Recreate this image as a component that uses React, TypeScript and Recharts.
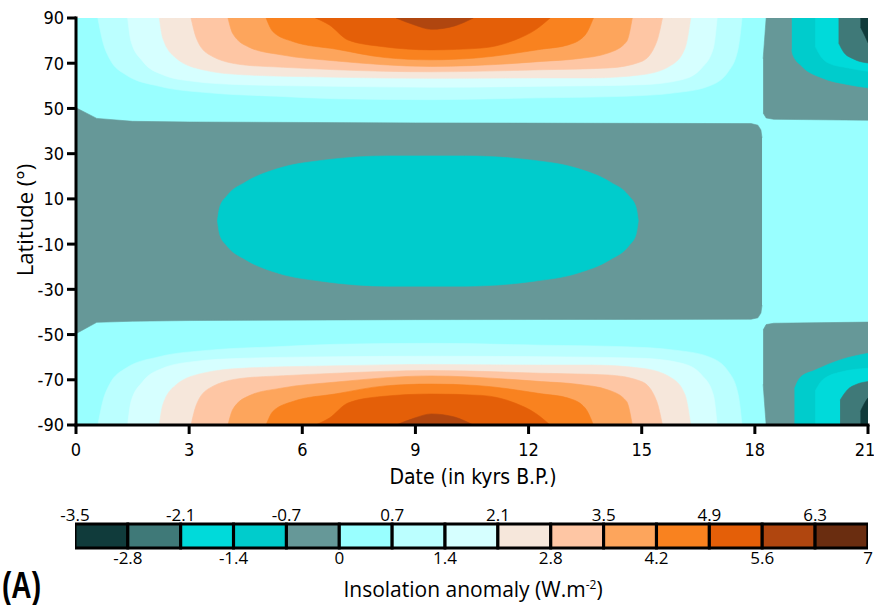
import { Area, Bar, Cell, ComposedChart, XAxis, YAxis } from "recharts";

// colour classes of the insolation anomaly (W.m-2)
const LEVEL_BOUNDS = [-3.5, -2.8, -2.1, -1.4, -0.7, 0, 0.7, 1.4, 2.1, 2.8, 3.5, 4.2, 4.9, 5.6, 6.3, 7];
const LEVEL_COLORS = [
  "#103b3b", "#3f7978", "#00dada", "#00cccc", "#669898",
  "#99ffff", "#bbffff", "#d6ffff", "#f6e7db", "#fec6a4",
  "#fda55c", "#f9821f", "#e45f08", "#b0460f", "#6a2d10",
];

const DATE_TICKS = [0, 3, 6, 9, 12, 15, 18, 21];
const LAT_TICKS = [-90, -70, -50, -30, -10, 10, 30, 50, 70, 90];
const BAR_TOP_TICKS = [-3.5, -2.1, -0.7, 0.7, 2.1, 3.5, 4.9, 6.3];
const BAR_BOTTOM_TICKS = [-2.8, -1.4, 0, 1.4, 2.8, 4.2, 5.6, 7];

// contour edges: [date (kyr BP), latitude]
// northern lobe, lower edge of each class (region reaches up to 90°N)
const north7 = [[0.58, 90], [0.71, 79.6], [0.88, 72.3], [1.33, 64.8], [2.21, 59.8], [3.54, 56.9], [5.31, 55.4], [6.9, 54.3], [9.4, 53.9], [12.34, 54.7], [14.56, 55.4], [15.88, 56.9], [16.77, 59.8], [17.3, 66.4], [17.56, 76.7], [17.66, 90]];
const north8 = [[1.37, 90], [1.46, 79.6], [1.77, 70.8], [2.3, 64.9], [3.1, 62], [4.42, 60.5], [6.9, 59.8], [9.4, 59.4], [12.34, 59.8], [15, 60.5], [16.06, 62.7], [16.59, 67.9], [16.9, 76.7], [17, 90]];
const north9 = [[2.21, 90], [2.3, 81.1], [2.65, 72.3], [3.36, 67.1], [4.42, 64.9], [6.9, 63.8], [9.4, 63.3], [12.34, 63.5], [13.67, 63.5], [15, 64.9], [15.8, 69.3], [16.15, 76.7], [16.3, 90]];
const north10 = [[3.05, 90], [3.19, 81.1], [3.54, 73.7], [4.42, 69.3], [5.5, 68.2], [6.9, 67.1], [9.4, 66.2], [12.34, 67.1], [14.11, 67.9], [15, 70.8], [15.4, 79.6], [15.55, 90]];
const north11 = [[4.03, 90], [4.16, 83], [4.6, 77], [5.44, 73.7], [6.9, 71], [9.4, 68.6], [11.5, 69.8], [12.34, 70.8], [13.3, 72], [14.11, 74.5], [14.6, 79.6], [14.75, 90]];
const north12 = [[5.04, 90], [5.22, 84], [5.75, 79.6], [6.9, 76.2], [8.2, 72.5], [9.4, 71.5], [10.6, 72.3], [12.34, 76.2], [13.05, 78.1], [13.5, 82.5], [13.72, 90]];
const north13 = [[6.35, 90], [6.72, 86.9], [7.21, 80.3], [8.1, 77.4], [9.42, 75.9], [10.75, 76.7], [11.64, 80.3], [12.2, 85], [12.57, 90]];
const north14 = [[8.49, 90], [8.98, 86.9], [9.42, 85], [10.04, 86.5], [10.53, 90]];

// southern lobe, upper edge of each class (region reaches down to 90°S)
const south7 = [[0.58, -90], [0.71, -79.6], [0.88, -72.3], [1.33, -64.8], [2.21, -59.8], [3.54, -56.9], [5.31, -55.4], [6.9, -54.3], [9.4, -53.9], [12.34, -54.7], [14.56, -55.4], [15.88, -56.9], [16.77, -59.8], [17.3, -66.4], [17.56, -76.7], [17.66, -90]];
const south8 = [[1.37, -90], [1.46, -79.6], [1.77, -70.8], [2.3, -64.9], [3.1, -62], [4.42, -60.5], [6.9, -59.8], [9.4, -59.6], [12.34, -59.8], [15, -60.5], [16.06, -62.7], [16.59, -67.9], [16.9, -76.7], [17, -90]];
const south9 = [[2.21, -90], [2.3, -81.1], [2.65, -72.3], [3.36, -67.1], [4.42, -64.9], [6.9, -63.8], [9.4, -63.2], [12.34, -63.5], [13.67, -63.5], [15, -64.9], [15.8, -69.3], [16.15, -76.7], [16.3, -90]];
const south10 = [[3.05, -90], [3.19, -81.1], [3.54, -73.7], [4.42, -69.3], [5.5, -68.2], [6.9, -67.1], [9.4, -65.9], [12.34, -67.1], [14.11, -67.9], [15, -70.8], [15.4, -79.6], [15.55, -90]];
const south11 = [[4.03, -90], [4.16, -83], [4.6, -77], [5.44, -73.7], [6.9, -71], [9.4, -68.3], [11.5, -69.8], [12.34, -70.8], [13.3, -72], [14.11, -74.5], [14.6, -79.6], [14.75, -90]];
const south12 = [[5.04, -90], [5.22, -84], [5.75, -79.6], [6.9, -76.2], [8.2, -72.7], [9.4, -71.9], [10.6, -72.5], [12.34, -76.2], [13.05, -78.1], [13.5, -82.5], [13.72, -90]];
const south13 = [[6.35, -90], [6.72, -86.9], [7.21, -80.3], [8.1, -77.4], [9.42, -76.3], [10.75, -76.9], [11.64, -80.3], [12.2, -85], [12.57, -90]];
const south14 = [[8.49, -90], [8.98, -86.9], [9.42, -85.1], [10.04, -86.5], [10.53, -90]];

// other regions: [date, low latitude, high latitude]
const background = [[0, -90, 90], [21, -90, 90]];
const centreBand = [[0, -49.6, 50.3], [0.55, -44.6, 45.6], [1.5, -44.1, 44.3], [3, -43.8, 44], [9, -43.4, 43.6], [15, -43.3, 43.4], [17.9, -43.2, 43.3], [18.08, -42.6, 42.6], [18.16, -40.5, 40.5], [18.19, -37, 37]];
const centreCore = [[3.75, 0.3, 0.3], [3.81, -5.7, 6.3], [4, -10.7, 11.3], [4.5, -16.9, 17.5], [5.35, -22.8, 23.4], [6.55, -26.5, 27.1], [8.3, -28.6, 29], [10.3, -28.6, 29], [12.11, -26.5, 27.1], [13.31, -22.8, 23.4], [14.16, -16.9, 17.5], [14.66, -10.7, 11.3], [14.85, -5.7, 6.3], [14.91, 0.3, 0.3]];

const northEast5 = [[18.22, 48, 72], [18.3, 45.8, 90], [18.5, 45.2, 90], [21, 44.8, 90]];
const northEast4 = [[18.98, 76, 90], [19, 74, 90], [19.25, 68.6, 90], [19.78, 63.5, 90], [20.48, 60.5, 90], [21, 59.1, 90]];
const northEast3 = [[19.6, 77.5, 90], [19.75, 73, 90], [19.95, 70.1, 90], [20.48, 67.9, 90], [21, 66.4, 90]];
const northEast2 = [[20.22, 79, 90], [20.35, 75, 90], [20.6, 72, 90], [21, 70.1, 90]];
const northEast1 = [[20.8, 86, 90], [20.92, 82, 90], [21, 79, 90]];

const southEast5 = [[18.22, -72, -48], [18.3, -90, -45.6], [18.5, -90, -45], [21, -90, -44.5]];
const southEast4 = [[19.05, -90, -74], [19.2, -90, -69], [19.6, -90, -65.7], [20.3, -90, -61], [21, -90, -58.3]];
const southEast3 = [[19.6, -90, -75], [19.8, -90, -70], [20.3, -90, -66.5], [21, -90, -64.9]];
const southEast2 = [[20.26, -90, -79], [20.45, -90, -74.5], [20.7, -90, -72], [21, -90, -70.8]];
const southEast1 = [[20.8, -90, -84], [20.92, -90, -80], [21, -90, -78]];

const NARROW = '"Liberation Sans Narrow", "DejaVu Sans Condensed", "Roboto", sans-serif';
const SANS = '"Open Sans", "Noto Sans", sans-serif';

const dome = (pts: number[][]) =>
  pts.map(([date, lat]) => ({ date, r: lat > 0 ? [lat, 90] : [-90, lat] }));
const band = (pts: number[][]) => pts.map(([date, lo, hi]) => ({ date, r: [lo, hi] }));

const layers = [
  { data: band(background), level: 5, curve: "linear" },
  { data: band(centreBand), level: 4, curve: "linear" },
  { data: band(centreCore), level: 3, curve: "monotone" },
  { data: dome(north7), level: 6, curve: "monotone" },
  { data: dome(north8), level: 7, curve: "monotone" },
  { data: dome(north9), level: 8, curve: "monotone" },
  { data: dome(north10), level: 9, curve: "monotone" },
  { data: dome(north11), level: 10, curve: "monotone" },
  { data: dome(north12), level: 11, curve: "monotone" },
  { data: dome(north13), level: 12, curve: "monotone" },
  { data: dome(north14), level: 13, curve: "monotone" },
  { data: dome(south7), level: 6, curve: "monotone" },
  { data: dome(south8), level: 7, curve: "monotone" },
  { data: dome(south9), level: 8, curve: "monotone" },
  { data: dome(south10), level: 9, curve: "monotone" },
  { data: dome(south11), level: 10, curve: "monotone" },
  { data: dome(south12), level: 11, curve: "monotone" },
  { data: dome(south13), level: 12, curve: "monotone" },
  { data: dome(south14), level: 13, curve: "monotone" },
  { data: band(northEast5), level: 4, curve: "linear" },
  { data: band(northEast4), level: 3, curve: "monotone" },
  { data: band(northEast3), level: 2, curve: "monotone" },
  { data: band(northEast2), level: 1, curve: "monotone" },
  { data: band(northEast1), level: 0, curve: "monotone" },
  { data: band(southEast5), level: 4, curve: "linear" },
  { data: band(southEast4), level: 3, curve: "monotone" },
  { data: band(southEast3), level: 2, curve: "monotone" },
  { data: band(southEast2), level: 1, curve: "monotone" },
  { data: band(southEast1), level: 0, curve: "monotone" },
];

// one colour-bar cell per class, centred on its class
const barCells = LEVEL_COLORS.map((color, i) => ({
  mid: (LEVEL_BOUNDS[i] + LEVEL_BOUNDS[i + 1]) / 2,
  h: 1,
  color,
}));

const axisLine = { stroke: "#000", strokeWidth: 3, strokeLinecap: "square" as const };
const tickLine = { stroke: "#000", strokeWidth: 3 };
const tickStyle = { fill: "#000", fontSize: 18, fontFamily: NARROW };
const barTick = { fill: "#000", fontSize: 17, fontFamily: SANS };

const abs = (left: number, top: number): React.CSSProperties => ({
  position: "absolute",
  left,
  top,
  transform: "translate(-50%, -50%)",
  whiteSpace: "nowrap",
  color: "#000",
});

export default function App() {
  return (
    <div style={{ position: "fixed", left: 0, top: 0, width: 874, height: 605, background: "#fff", overflow: "hidden" }}>
      <div style={{ position: "absolute", left: 0, top: 0 }}>
        <ComposedChart width={874} height={480} margin={{ top: 18, right: 6, bottom: 0, left: 0 }}>
          {layers.map((l, i) => (
            <Area
              key={i}
              data={l.data}
              dataKey="r"
              type={l.curve as "linear" | "monotone"}
              fill={LEVEL_COLORS[l.level]}
              fillOpacity={1}
              stroke={LEVEL_COLORS[l.level]}
              strokeWidth={0.6}
              dot={false}
              activeDot={false}
              isAnimationActive={false}
            />
          ))}
          <XAxis
            dataKey="date"
            type="number"
            domain={[0, 21]}
            ticks={DATE_TICKS}
            allowDataOverflow
            height={55}
            tickSize={9}
            tickMargin={9}
            axisLine={axisLine}
            tickLine={tickLine}
            tick={tickStyle}
          />
          <XAxis
            xAxisId="top"
            orientation="top"
            dataKey="date"
            type="number"
            domain={[0, 21]}
            ticks={DATE_TICKS}
            allowDataOverflow
            height={0}
            tickSize={9}
            axisLine={axisLine}
            tickLine={tickLine}
            tick={false}
          />
          <YAxis
            type="number"
            domain={[-90, 90]}
            ticks={LAT_TICKS}
            allowDataOverflow
            width={76}
            tickSize={9}
            tickMargin={3}
            axisLine={axisLine}
            tickLine={tickLine}
            tick={tickStyle}
          />
          <YAxis
            yAxisId="right"
            orientation="right"
            type="number"
            domain={[-90, 90]}
            ticks={LAT_TICKS}
            allowDataOverflow
            width={0}
            tickSize={9}
            axisLine={axisLine}
            tickLine={tickLine}
            tick={false}
          />
        </ComposedChart>
      </div>

      <div style={{ position: "absolute", left: 0, top: 495 }}>
        <ComposedChart
          width={874}
          height={83}
          data={barCells}
          margin={{ top: 0, right: 6, bottom: 0, left: 75 }}
          barCategoryGap={0}
          barGap={0}
        >
          <XAxis
            xAxisId="cbTop"
            orientation="top"
            dataKey="mid"
            type="number"
            domain={[-3.5, 7]}
            ticks={BAR_TOP_TICKS}
            allowDataOverflow
            height={29}
            tickSize={0}
            tickMargin={3}
            axisLine={false}
            tickLine={false}
            tick={barTick}
            interval={0}
          />
          <XAxis
            xAxisId="cb"
            dataKey="mid"
            type="number"
            domain={[-3.5, 7]}
            ticks={BAR_BOTTOM_TICKS}
            allowDataOverflow
            height={30}
            tickSize={0}
            tickMargin={4}
            axisLine={false}
            tickLine={false}
            tick={barTick}
            interval={0}
          />
          <YAxis type="number" domain={[0, 1]} hide />
          <Bar xAxisId="cb" dataKey="h" barSize={52.7} stroke="#000" strokeWidth={3} isAnimationActive={false}>
            {barCells.map((c, i) => (
              <Cell key={i} fill={c.color} />
            ))}
          </Bar>
        </ComposedChart>
      </div>

      <div style={{ ...abs(24, 220), transform: "translate(-50%, -50%) rotate(-90deg)", fontFamily: SANS, fontSize: 22 }}>
        Latitude (°)
      </div>
      <div style={{ ...abs(473, 477), fontFamily: NARROW, fontSize: 21 }}>Date (in kyrs B.P.)</div>
      <div style={{ ...abs(473, 589), fontFamily: SANS, fontSize: 21 }}>
        Insolation anomaly (W.m<sup style={{ fontSize: 12 }}>-2</sup>)
      </div>
      <div
        style={{
          position: "absolute",
          left: 2,
          top: 565,
          fontFamily: '"Liberation Sans", sans-serif',
          fontWeight: 700,
          fontSize: 36,
          color: "#000",
          transform: "scaleX(0.78)",
          transformOrigin: "left top",
        }}
      >
        (A)
      </div>
    </div>
  );
}
